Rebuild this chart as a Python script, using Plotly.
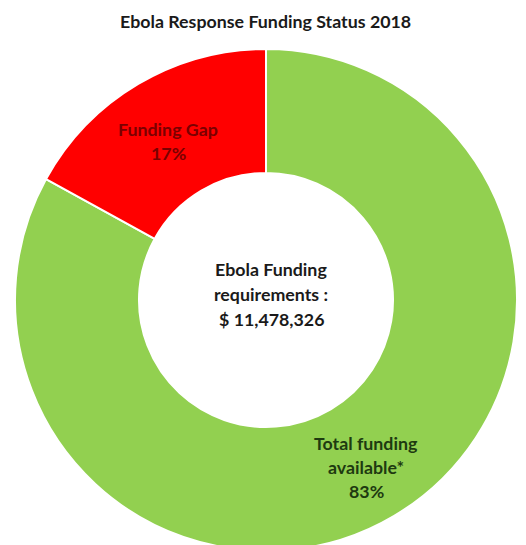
import plotly.graph_objects as go

# Data
categories = ["Total funding available*", "Funding Gap"]
shares = [83, 17]
slice_colors = ["#92D050", "#FF0000"]
label_colors = ["#1E3A10", "#7A0000"]
title_text = "Ebola Response Funding Status 2018"
requirement_amount = 11478326

W, H = 526, 552
L, R, T, B = 15, 9, 49, 1
PW, PH = W - L - R, H - T - B
FONT = "Lato"
FS = 17.8


def px(x, y):
    return (x - L) / PW, (H - B - y) / PH


fig = go.Figure(
    go.Pie(
        labels=categories,
        values=shares,
        hole=0.506,
        sort=False,
        direction="clockwise",
        rotation=0,
        marker=dict(colors=slice_colors, line=dict(color="white", width=2)),
        textinfo="none",
        hoverinfo="label+percent",
        showlegend=False,
    )
)

annotations = []


def add_lines(lines, cx, y0, dy, color, size=FS):
    for i, line in enumerate(lines):
        xp, yp = px(cx, y0 + i * dy)
        annotations.append(
            dict(
                x=xp, y=yp, xref="paper", yref="paper", text="<b>%s</b>" % line,
                showarrow=False, xanchor="center", yanchor="middle",
                font=dict(family=FONT, size=size, color=color),
            )
        )


# Slice labels
add_lines([categories[1], f"{shares[1]}%"], 168, 129, 24, label_colors[1])
add_lines(["Total funding", "available*", f"{shares[0]}%"], 366, 443, 24, label_colors[0])
# Centre text
add_lines(["Ebola Funding", "requirements :", f"$ {requirement_amount:,}"], 271, 269, 25, "#1a1a1a")
# Title
add_lines([title_text], 265, 21, 0, "#1a1a1a", size=FS)

fig.update_layout(
    width=W, height=H,
    margin=dict(l=L, r=R, t=T, b=B),
    paper_bgcolor="white", plot_bgcolor="white",
    annotations=annotations,
)

fig.write_html(
    "out.html",
    post_script="document.documentElement.style.overflow='hidden';document.body.style.overflow='hidden';document.body.style.margin='0';",
)
